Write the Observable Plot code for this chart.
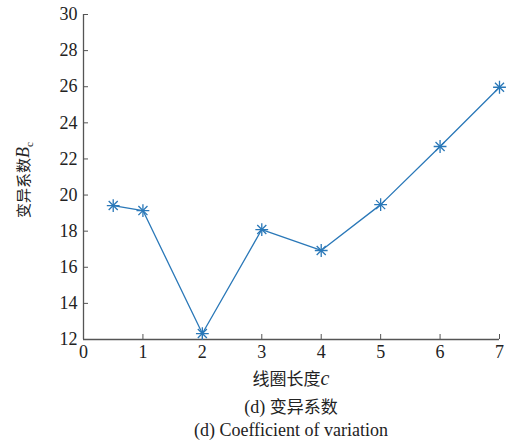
<!DOCTYPE html>
<html>
<head>
<meta charset="utf-8">
<script src="https://cdn.jsdelivr.net/npm/d3@7"></script>
<script src="https://cdn.jsdelivr.net/npm/@observablehq/plot@0.6"></script>
<style>
  body { margin: 0; background: #fff; }
  #chart { width: 519px; }
  .cap { width: 519px; box-sizing: border-box; padding-left: 63px; text-align: center; font-family: "Liberation Serif", serif; font-size: 18px; color: #222; line-height: 23px; }
</style>
</head>
<body>
<div id="chart"></div>
<div class="cap" style="margin-top:4px">(d) <span style="font-family:'Noto Sans CJK SC';font-size:17px">变异系数</span></div>
<div class="cap">(d) Coefficient of variation</div>
<script>
const coilLength = [0.5, 1, 2, 3, 4, 5, 6, 7];
const variation = [19.42, 19.14, 12.33, 18.09, 16.93, 19.47, 22.69, 25.97];
const xTicks = [0, 1, 2, 3, 4, 5, 6, 7];
const yTicks = [12, 14, 16, 18, 20, 22, 24, 26, 28, 30];
const xLabel = "线圈长度";
const yLabel = "变异系数";

const data = coilLength.map((c, i) => ({c, v: variation[i]}));
const blue = "#2a78b8";
const axisColor = "#555";

const plot = Plot.plot({
  width: 519,
  height: 390,
  marginLeft: 83,
  marginRight: 20,
  marginTop: 14,
  marginBottom: 51,
  style: {fontFamily: "'Liberation Serif', serif", fontSize: "18px", color: "#222", background: "#fff"},
  x: {domain: [0, 7]},
  y: {domain: [12, 30]},
  marks: [
    Plot.axisX({ticks: xTicks, tickFormat: d => String(d), tickSize: -5, tickPadding: 11, stroke: axisColor, label: null, fontSize: 18}),
    Plot.axisY({ticks: yTicks, tickFormat: d => String(d), tickSize: -5, tickPadding: 11, stroke: axisColor, label: null, fontSize: 18}),
    Plot.ruleX([0], {stroke: axisColor, strokeWidth: 1.3}),
    Plot.ruleY([12], {stroke: axisColor, strokeWidth: 1.3}),
    Plot.line(data, {x: "c", y: "v", stroke: blue, strokeWidth: 1.3}),
    Plot.dot(data, {x: "c", y: "v", symbol: "plus", r: 4.2, stroke: blue, strokeWidth: 1.3}),
    Plot.dot(data, {x: "c", y: "v", symbol: "times", r: 4.2, stroke: blue, strokeWidth: 1.3})
  ]
});
document.getElementById("chart").appendChild(plot);

// axis titles as real text inside the SVG
const svg = d3.select(plot);
const xt = svg.append("text")
  .attr("x", 291).attr("y", 385)
  .attr("text-anchor", "middle")
  .attr("fill", "#222")
  .style("font-size", "17px");
xt.append("tspan").attr("font-family", "'Noto Sans CJK SC'").attr("font-size", "17px").text(xLabel);
xt.append("tspan").attr("font-family", "'Liberation Serif'").attr("font-style", "italic").attr("font-size", "20px").text("c");

const yt = svg.append("text")
  .attr("transform", "translate(29,180) rotate(-90)")
  .attr("text-anchor", "middle")
  .attr("fill", "#222")
  .style("font-size", "17px");
yt.append("tspan").attr("font-family", "'Noto Sans CJK SC'").attr("font-size", "15px").text(yLabel);
yt.append("tspan").attr("font-family", "'Liberation Serif'").attr("font-style", "italic").attr("font-size", "18px").text("B");
yt.append("tspan").attr("font-family", "'Liberation Serif'").attr("font-size", "11px").attr("dy", 4).text("c");
</script>
</body>
</html>
